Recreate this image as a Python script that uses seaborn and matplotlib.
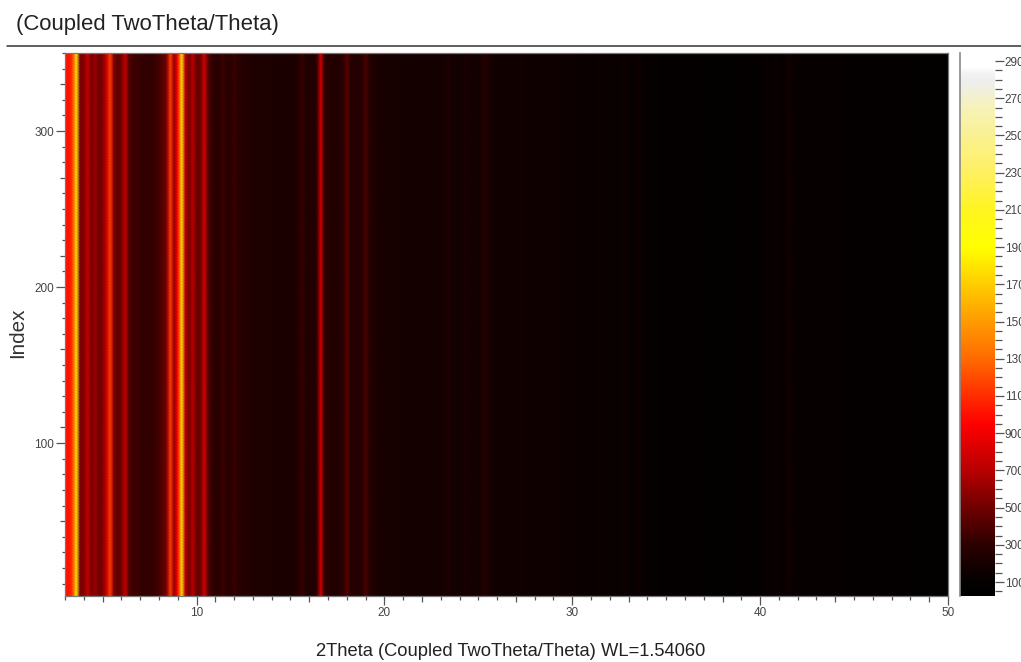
# -*- coding: utf-8 -*-
import numpy as np
import pandas as pd
import matplotlib
matplotlib.use('Agg')
import matplotlib.pyplot as plt
from matplotlib.colors import LinearSegmentedColormap
import seaborn as sns

# intensity profile along 2Theta, one value every 0.2 deg starting at 3
intensity = [
    1000, 1000, 1150, 1800, 520, 550, 750, 520, 620, 500,
    550, 750, 1150, 550, 430, 520, 750, 420, 350, 350,
    330, 320, 320, 320, 340, 370, 430, 520, 1150, 600,
    950, 1800, 700, 520, 700, 480, 480, 800, 450, 320,
    300, 290, 350, 300, 290, 340, 290, 270, 260, 250,
    240, 240, 230, 230, 230, 230, 220, 220, 220, 220,
    220, 230, 260, 330, 270, 240, 250, 300, 800, 320,
    280, 260, 250, 270, 300, 430, 280, 260, 260, 270,
    400, 260, 240, 220, 210, 210, 200, 200, 200, 200,
    190, 190, 190, 190, 190, 200, 190, 180, 180, 190,
    190, 200, 230, 190, 180, 180, 190, 220, 190, 180,
    190, 240, 260, 200, 180, 170, 170, 170, 170, 170,
    170, 170, 170, 160, 160, 160, 170, 160, 160, 160,
    160, 160, 150, 150, 150, 150, 150, 140, 140, 140,
    140, 140, 150, 140, 130, 130, 130, 130, 140, 170,
    130, 120, 140, 150, 120, 115, 115, 125, 115, 110,
    110, 110, 120, 110, 110, 105, 105, 105, 105, 105,
    105, 100, 100, 100, 105, 100, 100, 100, 100, 105,
    105, 105, 110, 105, 105, 110, 125, 130, 125, 150,
    130, 120, 150, 170, 130, 125, 125, 120, 120, 120,
    120, 120, 115, 115, 115, 115, 115, 115, 110, 110,
    110, 110, 115, 110, 110, 110, 105, 105, 110, 105,
    110, 105, 105, 105, 105, 105, 100, 100, 100, 100,
    100, 100, 100, 100, 100, 100,
]
x_start = 3
x_step = 0.2
index_start = 2
index_stop = 350

x_ticks = [10, 20, 30, 40, 50]
y_ticks = [100, 200, 300]
cbar_ticks = [100, 300, 500, 700, 900, 1100, 1300, 1500, 1700, 1900, 2100, 2300, 2500, 2700, 2900]
vmin = 25
vmax = 2943

# colour ramp (value, colour)
ramp_values = [25, 100, 300, 500, 700, 950, 1300, 1500, 1900, 2100, 2300, 2650, 2790, 2830, 2870, 2943]
ramp_colors = ['#000000', '#030000', '#2c0000', '#700000', '#b80000', '#ff0000', '#ff6a00',
               '#ff9a00', '#ffff00', '#fff520', '#fff060', '#f6f2b8', '#eeeeee', '#f2f2f2',
               '#ffffff', '#ffffff']

title = '(Coupled TwoTheta/Theta)'
xlabel = '2Theta (Coupled TwoTheta/Theta) WL=1.54060'
ylabel = 'Index'

sns.set_theme(style='white')
plt.rcParams['font.family'] = ['Liberation Sans', 'DejaVu Sans']

W, H = 1021, 662
gray = '#555555'
cmap = LinearSegmentedColormap.from_list(
    'xrd', [((v - vmin) / (vmax - vmin), c) for v, c in zip(ramp_values, ramp_colors)], N=1024)

index = np.arange(index_start, index_stop + 1)
two_theta = x_start + x_step * np.arange(len(intensity))
df = pd.DataFrame(np.tile(intensity, (len(index), 1)), index=index, columns=two_theta)

fig = plt.figure(figsize=(W / 100, H / 100), dpi=100)
axes = fig.add_axes([65 / W, 1 - 596 / H, (948 - 65) / W, (596 - 53) / H])
cax = fig.add_axes([960 / W, 1 - 596 / H, 35 / W, (596 - 53) / H])

sns.heatmap(df, ax=axes, cbar_ax=cax, cmap=cmap, vmin=vmin, vmax=vmax,
            xticklabels=False, yticklabels=False, shading='gouraud')

# heatmap works in cell numbers, so ticks go through these two
def xpos(v):
    return (np.asarray(v, dtype=float) - x_start) / x_step

def ypos(v):
    return np.asarray(v, dtype=float) - index_start

axes.set_xlim(0, len(intensity) - 1)
axes.set_ylim(0, len(index) - 1)

axes.set_xticks(xpos(x_ticks))
axes.set_xticklabels([str(t) for t in x_ticks])
axes.set_yticks(ypos(y_ticks))
axes.set_yticklabels([str(t) for t in y_ticks], rotation=0)

x_minor = np.arange(x_start, 51, 1)
y_minor = np.arange(10, 351, 10)
axes.set_xticks(xpos(x_minor), minor=True)
axes.set_yticks(ypos(y_minor), minor=True)
axes.tick_params(axis='both', which='major', length=6.5, width=0.9, color=gray,
                 labelsize=8.5, labelcolor='#444444', pad=1.5, bottom=True, left=True)
axes.tick_params(axis='x', which='minor', length=3, width=0.9, color=gray, bottom=True)
axes.tick_params(axis='y', which='minor', length=2.2, width=0.9, color=gray, left=True)

# every fifth minor tick is a bit longer
for tick, v in zip(axes.xaxis.get_minor_ticks(), x_minor):
    if v % 5 == 0:
        tick.tick1line.set_markersize(4.2)
for tick, v in zip(axes.yaxis.get_minor_ticks(), y_minor):
    if v % 50 == 0:
        tick.tick1line.set_markersize(3.6)

for name, spine in axes.spines.items():
    spine.set_visible(True)
    spine.set_color('#777777')
    spine.set_linewidth(0.9)

# the right edge of the figure cuts these labels, same as in the reference
cax.set_yticks(cbar_ticks)
cax.set_yticklabels([str(t) for t in cbar_ticks])
cax.set_yticks(np.arange(50, 2943, 50), minor=True)
cax.tick_params(axis='y', which='major', length=6.5, width=0.9, color=gray, right=True,
                labelsize=8.5, labelcolor='#444444', pad=0.5)
cax.tick_params(axis='y', which='minor', length=5, width=0.9, color=gray, right=True)
cax.spines['left'].set_visible(True)
cax.spines['left'].set_color('#888888')
cax.spines['left'].set_linewidth(1.2)

fig.text(16 / W, 1 - 24.5 / H, title, fontsize=15.9, color='#222222', ha='left', va='center')
fig.text(511 / W, 1 - 652 / H, xlabel, fontsize=13.2, color='#222222', ha='center', va='center')
fig.text(18 / W, 1 - 333 / H, ylabel, fontsize=14.9, color='#333333', rotation=90,
         ha='center', va='center')
fig.add_artist(plt.Line2D([7 / W, 1], [1 - 46 / H, 1 - 46 / H], color='#333333', linewidth=1.1))

fig.savefig('out.png', dpi=100)
plt.close('all')
